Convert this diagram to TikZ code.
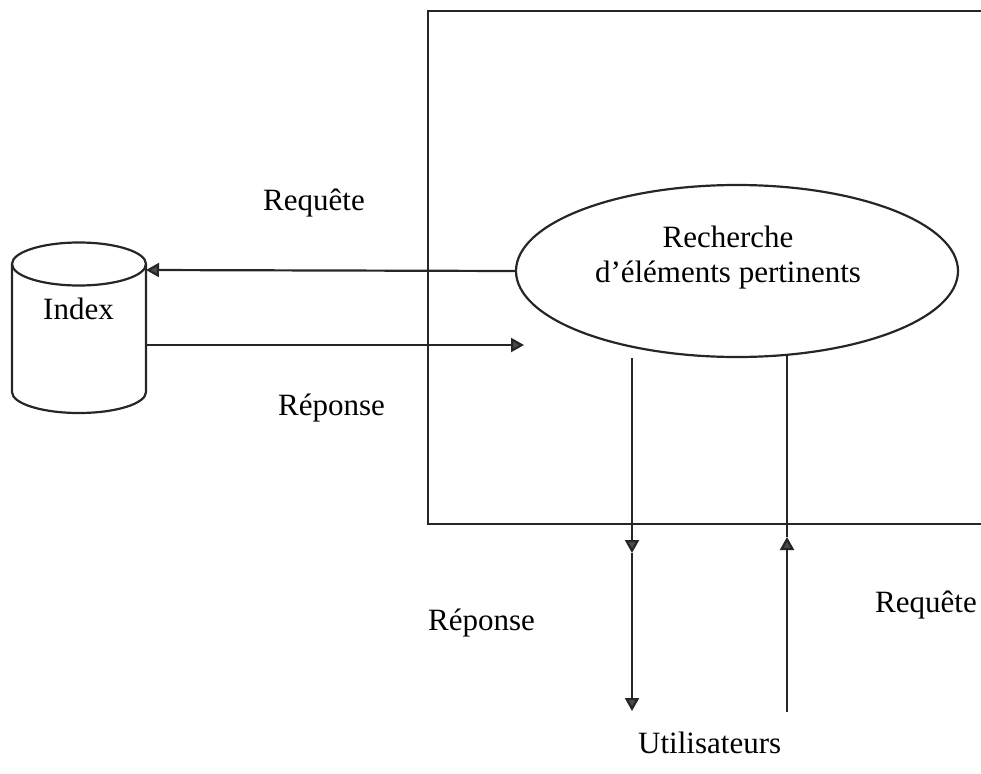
\documentclass[tikz,border=0pt]{standalone}
\usepackage{fontspec}
\setmainfont{Liberation Serif}
\usetikzlibrary{arrows.meta,shapes.geometric}
\tikzset{
  line/.style={line width=2.2pt,draw=black!85},
  tipped/.style={line,-{Triangle[length=13pt,width=14pt,fill=black!70]}},
  lbl/.style={anchor=base west,inner sep=0pt,font=\fontsize{31}{35}\selectfont},
}
\begin{document}
\begin{tikzpicture}[x=1pt,y=-1pt]
\useasboundingbox (0,0) rectangle (981,773);
\clip (0,0) rectangle (981,773);

% system frame (runs off the right edge)
\draw[line] (995,11) -- (428,11) -- (428,524) -- (995,524);

% search process
\node[line,ellipse,minimum width=442pt,minimum height=172pt,inner sep=0pt] (search) at (737,271) {};
\node[align=center,inner sep=0pt,font=\fontsize{31}{35}\selectfont] (searchtxt) at (728,258)
  {Recherche\\d’éléments pertinents};

% index store drawn as a cylinder
\draw[line,fill=white] (12,264) -- (12,392) arc[start angle=180,end angle=0,x radius=67,y radius=21]
  -- (146,264);
\draw[line] (79,264) ellipse[x radius=67,y radius=21.5];
\node[lbl] (index) at (43,319) {Index};
\coordinate (idxin) at (146,270);
\coordinate (idxout) at (146,345);
\coordinate (srchin) at (524,345);

% query and answer between the process and the index
\draw[tipped] (search.west) -- (idxin);
\draw[tipped] (idxout) -- (srchin);

% users side
\coordinate (downtop) at (632,358);
\coordinate (downmid) at (632,553);
\coordinate (downend) at (632,711);
\coordinate (upstart) at (787,712);
\coordinate (upmid) at (787,537);
\draw[tipped] (downtop) -- (downmid);
\draw[tipped] (downmid) -- (downend);
\draw[tipped] (upstart) -- (upmid);
\draw[line] (upmid) -- (787,355);

% labels
\node[lbl] (q1) at (263,210) {Requête};
\node[lbl] (r1) at (278,415) {Réponse};
\node[lbl] (r2) at (428,630) {Réponse};
\node[lbl] (q2) at (875,612) {Requête};
\node[lbl] (users) at (638,753) {Utilisateurs};
\end{tikzpicture}
\end{document}
